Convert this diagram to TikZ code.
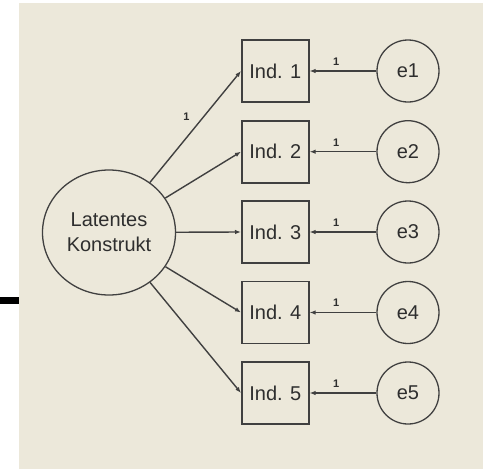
\documentclass[tikz,border=0pt]{standalone}
\usepackage{fontspec}
\setmainfont{Liberation Sans}
\usetikzlibrary{arrows.meta,shapes.geometric}
\definecolor{amosbg}{HTML}{ECE8DA}
\definecolor{ln}{HTML}{404040}
\definecolor{tx}{HTML}{2E2E2E}
\tikzset{
  ind/.style={draw=ln, line width=1.6pt, minimum width=67pt, minimum height=62pt, inner sep=0pt,
    font=\fontsize{20}{24}\selectfont, text=tx},
  err/.style={circle, draw=ln, line width=1.3pt, minimum size=62pt, inner sep=0pt,
    font=\fontsize{20}{24}\selectfont, text=tx},
  lat/.style={ellipse, draw=ln, line width=1.3pt, minimum width=133pt, minimum height=125pt, inner sep=0pt,
    font=\fontsize{20}{25}\selectfont, text=tx, align=center},
  con/.style={draw=ln, line width=1.4pt, -{Latex[length=6pt,width=4.5pt]}},
  one/.style={font=\fontsize{11}{13}\selectfont\bfseries, text=tx, inner sep=1pt}
}
\begin{document}
\begin{tikzpicture}[x=1pt,y=-1pt]
\useasboundingbox (0,0) rectangle (483,469);
\fill[amosbg] (18.5,3) rectangle (483,469);
\fill[black] (0,297) rectangle (19,304);
\node[lat] (L) at (109,232.5) {Latentes\\Konstrukt};
\foreach \i/\y in {1/71,2/151.7,3/232,4/312.5,5/393}{
  \node[ind] (b\i) at (275.3,\y) {Ind. \i};
  \node[err] (e\i) at (408,\y) {e\i};
  \draw[con] (e\i) -- node[one, pos=0.6, above=4pt] {1} (b\i);
  \draw[con] (L) -- (b\i.west);
}
\path (L) -- node[one, pos=0.4, above=16pt] {1} (b1.west);
\end{tikzpicture}
\end{document}
